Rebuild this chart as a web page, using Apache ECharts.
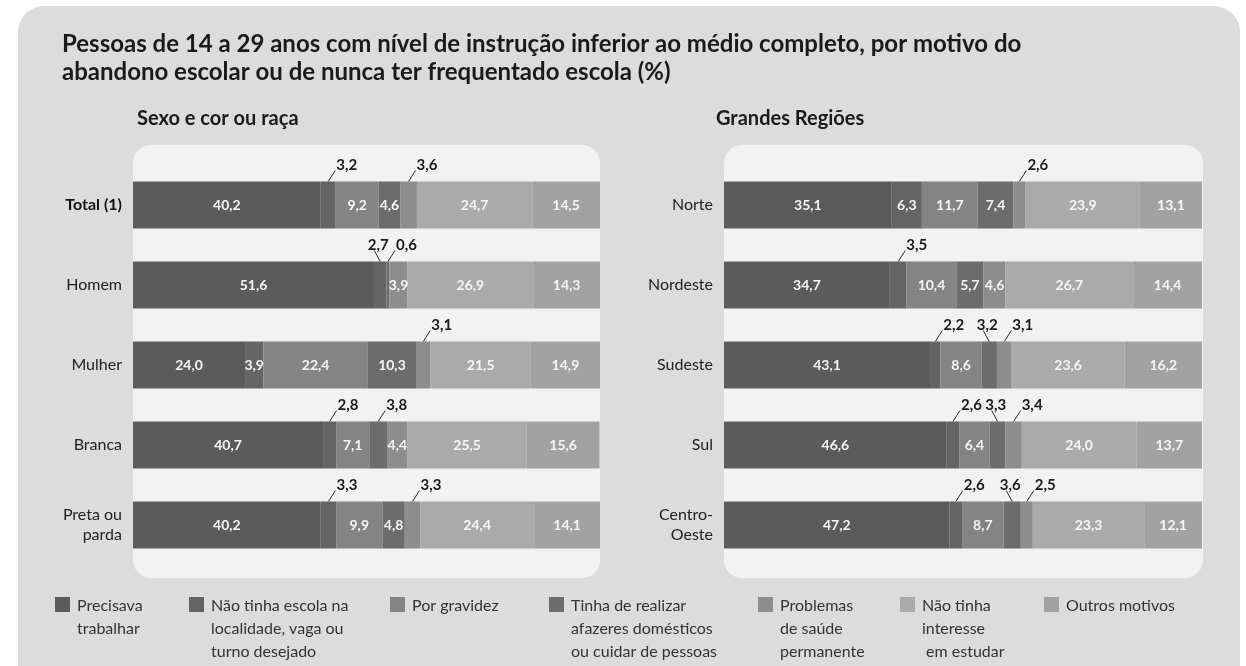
<!DOCTYPE html>
<html>
<head>
<meta charset="utf-8">
<script src="https://cdn.jsdelivr.net/npm/echarts@6/dist/echarts.min.js"></script>
<style>
  html, body { margin: 0; padding: 0; background: #ffffff; }
  #chart { width: 1246px; height: 666px; }
</style>
</head>
<body>
<div id="chart"></div>
<script>
// motivos (ordem das pilhas)
const motivos = [
  'Precisava trabalhar',
  'Não tinha escola na localidade, vaga ou turno desejado',
  'Por gravidez',
  'Tinha de realizar afazeres domésticos ou cuidar de pessoas',
  'Problemas de saúde permanente',
  'Não tinha interesse em estudar',
  'Outros motivos'
];
const legendText = [
  'Precisava\ntrabalhar',
  'Não tinha escola na\nlocalidade, vaga ou\nturno desejado',
  'Por gravidez',
  'Tinha de realizar\nafazeres domésticos\nou cuidar de pessoas',
  'Problemas\nde saúde\npermanente',
  'Não tinha\ninteresse\n em estudar',
  'Outros motivos'
];

// Sexo e cor ou raça
const grupos = ['Total (1)', 'Homem', 'Mulher', 'Branca', 'Preta ou\nparda'];
const valoresGrupos = [
  [40.2, 51.6, 24.0, 40.7, 40.2],
  [3.2, 2.7, 3.9, 2.8, 3.3],
  [9.2, 0, 22.4, 7.1, 9.9],
  [4.6, 0.6, 10.3, 3.8, 4.8],
  [3.6, 3.9, 3.1, 4.4, 3.3],
  [24.7, 26.9, 21.5, 25.5, 24.4],
  [14.5, 14.3, 14.9, 15.6, 14.1]
];

// Grandes Regiões
const regioes = ['Norte', 'Nordeste', 'Sudeste', 'Sul', 'Centro-\nOeste'];
const valoresRegioes = [
  [35.1, 34.7, 43.1, 46.6, 47.2],
  [6.3, 3.5, 2.2, 2.6, 2.6],
  [11.7, 10.4, 8.6, 6.4, 8.7],
  [7.4, 5.7, 3.2, 3.3, 3.6],
  [2.6, 4.6, 3.1, 3.4, 2.5],
  [23.9, 26.7, 23.6, 24.0, 23.3],
  [13.1, 14.4, 16.2, 13.7, 12.1]
];

const cores = ['#5b5b5b', '#646464', '#848484', '#6c6c6c', '#8d8d8d', '#aaaaaa', '#a2a2a2'];
const FONT = 'Lato, "Open Sans", sans-serif';
const LIMITE = 3.85;   // abaixo disso o rótulo vai para fora da barra
const fmt = v => v.toFixed(1).replace('.', ',');

// rótulos externos: [centro do segmento, linha, valor, direção]
function externos(valores, nLinhas) {
  const out = [];
  for (let r = 0; r < nLinhas; r++) {
    let acum = 0;
    const itens = [];
    for (let s = 0; s < valores.length; s++) {
      const v = valores[s][r];
      if (v > 0 && v < LIMITE) itens.push([acum + v / 2, r, v]);
      acum += v;
    }
    itens.forEach((it, i) => {
      const prox = itens[i + 1];
      const dir = prox && prox[0] - it[0] < 6 ? -1 : 1;
      out.push([it[0], it[1], it[2], dir]);
    });
  }
  return out;
}

function seriesPainel(valores, idx, stack) {
  const arr = valores.map((vals, s) => ({
    name: motivos[s],
    type: 'bar',
    stack: stack,
    xAxisIndex: idx,
    yAxisIndex: idx,
    barWidth: 47,
    itemStyle: { color: cores[s] },
    label: {
      show: true,
      position: 'inside',
      color: '#f6f6f6',
      fontFamily: FONT,
      fontWeight: 'bold',
      fontSize: 14,
      formatter: p => (p.value >= LIMITE ? fmt(p.value) : '')
    },
    data: vals
  }));
  arr.push({
    type: 'custom',
    xAxisIndex: idx,
    yAxisIndex: idx,
    z: 5,
    data: externos(valores, valores[0].length),
    renderItem: (params, api) => {
      const p = api.coord([api.value(0), api.value(1)]);
      const top = p[1] - 23.5;
      const dir = api.value(3);
      const x2 = p[0] + (dir > 0 ? 7 : -6);
      const y2 = top - 11;
      return {
        type: 'group',
        children: [
          { type: 'line', shape: { x1: p[0], y1: top, x2: x2, y2: y2 },
            style: { stroke: '#2a2a2a', lineWidth: 1 } },
          { type: 'text',
            style: {
              x: dir > 0 ? x2 + 1 : x2 + 4, y: y2 + 2,
              text: fmt(api.value(2)),
              align: dir > 0 ? 'left' : 'center', verticalAlign: 'bottom',
              fill: '#1a1a1a', font: 'bold 15px ' + FONT
            } }
        ]
      };
    }
  });
  return arr;
}

const chart = echarts.init(document.getElementById('chart'), null, { renderer: 'canvas' });

const legenda = [];
const legX = [55, 189, 390, 549, 758, 900, 1044];
legendText.forEach((t, i) => {
  legenda.push({ type: 'rect', shape: { x: legX[i], y: 597, width: 15, height: 15 },
    style: { fill: cores[i] } });
  legenda.push({ type: 'text', x: legX[i] + 22, y: 594,
    style: { text: t, font: '16px ' + FONT, fill: '#333', lineHeight: 23, verticalAlign: 'top' } });
});

const eixoCat = (dados, idx) => ({
  type: 'category',
  gridIndex: idx,
  inverse: true,
  data: dados,
  axisLine: { show: false },
  axisTick: { show: false },
  axisLabel: {
    margin: 11,
    fontFamily: FONT,
    fontSize: 16,
    color: '#222',
    lineHeight: 20,
    align: 'right',
    formatter: v => (v === 'Total (1)' ? '{b|' + v + '}' : v),
    rich: { b: { fontWeight: 'bold', fontFamily: FONT, fontSize: 16, color: '#111' } }
  }
});

const option = {
  backgroundColor: '#ffffff',
  animation: false,
  graphic: [
    { type: 'rect', z: -10, shape: { x: 18, y: 6, width: 1222, height: 720, r: 26 },
      style: { fill: '#dcdcdc' } },
    { type: 'rect', z: -9, shape: { x: 133, y: 145, width: 467, height: 433, r: 18 },
      style: { fill: '#f2f2f2' } },
    { type: 'rect', z: -9, shape: { x: 724, y: 145, width: 479, height: 433, r: 18 },
      style: { fill: '#f2f2f2' } },
    { type: 'text', x: 62, y: 30,
      style: { text: 'Pessoas de 14 a 29 anos com nível de instrução inferior ao médio completo, por motivo do\nabandono escolar ou de nunca ter frequentado escola (%)',
        font: 'bold 24px ' + FONT, fill: '#1a1a1a', lineHeight: 28, verticalAlign: 'top' } },
    { type: 'text', x: 137, y: 109,
      style: { text: 'Sexo e cor ou raça', font: 'bold 20px ' + FONT, fill: '#1a1a1a', verticalAlign: 'top' } },
    { type: 'text', x: 716, y: 109,
      style: { text: 'Grandes Regiões', font: 'bold 20px ' + FONT, fill: '#1a1a1a', verticalAlign: 'top' } }
  ].concat(legenda),
  grid: [
    { left: 133, width: 467, top: 165, height: 400 },
    { left: 724, width: 478, top: 165, height: 400 }
  ],
  xAxis: [
    { type: 'value', gridIndex: 0, min: 0, max: 100, show: false },
    { type: 'value', gridIndex: 1, min: 0, max: 100, show: false }
  ],
  yAxis: [eixoCat(grupos, 0), eixoCat(regioes, 1)],
  series: seriesPainel(valoresGrupos, 0, 'grupos').concat(seriesPainel(valoresRegioes, 1, 'regioes'))
};

chart.setOption(option);
</script>
</body>
</html>
